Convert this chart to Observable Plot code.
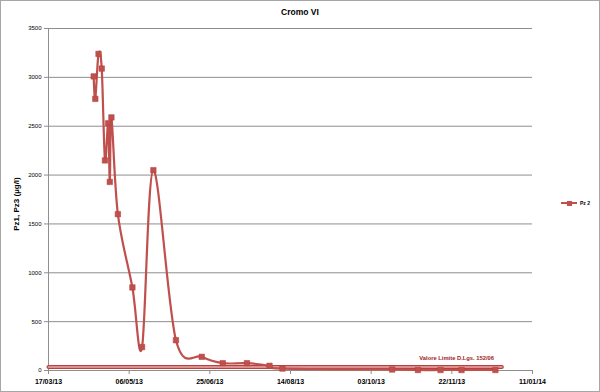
<!DOCTYPE html>
<html>
<head>
<meta charset="utf-8">
<script src="https://cdn.jsdelivr.net/npm/d3@7"></script>
<script src="https://cdn.jsdelivr.net/npm/@observablehq/plot@0.6"></script>
<style>
  body { margin: 0; background: #fff; }
  #chart { position: relative; width: 600px; height: 392px; overflow: hidden; font-family: "Liberation Sans", Arial, sans-serif; background:#fff; }
  #chart svg { position: absolute; left: 0; top: 0; }
  #border { position: absolute; left: 0; top: 0; width: 600px; height: 392px; box-sizing: border-box; border: 1px solid #a6a6a6; pointer-events: none; }
  #title { position: absolute; left: 0; width: 600px; top: 7px; text-align: center; font-weight: bold; font-size: 8.5px; color: #000; }
  #ylabel { position: absolute; left: 16px; top: 204px; transform: translate(-50%, -50%) rotate(-90deg); white-space: nowrap; font-weight: bold; font-size: 8px; color: #000; }
  #legend { position: absolute; left: 561px; top: 199px; display: flex; align-items: center; font-size: 5px; font-weight: bold; color: #000; }
  #legend .sw { position: relative; width: 16px; height: 8px; margin-right: 3px; }
  #legend .sw .ln { position: absolute; left: 0; top: 3px; width: 16px; height: 2px; background: #c0504d; }
  #legend .sw .mk { position: absolute; left: 5.5px; top: 1.5px; width: 5px; height: 5px; background: #c0504d; }
</style>
</head>
<body>
<div id="chart">
  <div id="title">Cromo VI</div>
  <div id="ylabel">Pz1, Pz3 (µg/l)</div>
  <div id="legend"><div class="sw"><div class="ln"></div><div class="mk"></div></div><span>Pz 2</span></div>
  <div id="border"></div>
</div>
<script>
// ---- data ----
const seriesName = "Pz 2";
const dates = ["2013-04-14","2013-04-15","2013-04-17","2013-04-19","2013-04-21","2013-04-23","2013-04-24","2013-04-25","2013-04-29","2013-05-08","2013-05-14","2013-05-21","2013-06-04","2013-06-20","2013-07-03","2013-07-18","2013-08-01","2013-08-09","2013-10-16","2013-11-01","2013-11-15","2013-11-28","2013-12-19"];
const values = [3010,2780,3240,3090,2150,2530,1930,2590,1600,850,240,2050,310,140,75,75,48,20,10,5,5,5,5];
const limitDates = ["2013-03-17","2013-12-23"];
const limitValues = [35,35];
const limitLabel = "Valore Limite D.Lgs. 152/06";
const limitLabelDate = "2013-11-25";
const limitLabelValue = 125;
const xTickDates = ["2013-03-17","2013-05-06","2013-06-25","2013-08-14","2013-10-03","2013-11-22","2014-01-11"];
const yTicks = [0,500,1000,1500,2000,2500,3000,3500];

// ---- build ----
const data = dates.map((d, i) => ({date: new Date(d), value: values[i]}));
const limit = limitDates.map((d, i) => ({date: new Date(d), value: limitValues[i]}));
const xTicks = xTickDates.map(d => new Date(d));
const red = "#c0504d";
const grid = "#8e8e8e";

const plot = Plot.plot({
  width: 600,
  height: 392,
  marginLeft: 48,
  marginRight: 68,
  marginTop: 28,
  marginBottom: 22,
  style: {fontFamily: "'Liberation Sans', Arial, sans-serif", background: "transparent", color: "#000"},
  x: {type: "utc", domain: [xTicks[0], xTicks[xTicks.length - 1]]},
  y: {domain: [0, 3500]},
  marks: [
    Plot.gridY(yTicks, {stroke: grid, strokeOpacity: 1}),
    Plot.ruleY([0], {stroke: grid}),
    Plot.ruleX([xTicks[0]], {stroke: grid}),
    Plot.axisY(yTicks, {tickSize: 4, tickPadding: 3, fontSize: 6, label: null, stroke: grid, tickFormat: d => String(d)}),
    Plot.axisX(xTicks, {tickSize: 4, tickPadding: 5, fontSize: 7, fontWeight: "bold", label: null, stroke: grid, tickFormat: d3.utcFormat("%d/%m/%y")}),
    Plot.line(limit, {x: "date", y: "value", stroke: "#b8403d", strokeWidth: 4}),
    Plot.line(limit, {x: "date", y: "value", stroke: "#e9aaa8", strokeWidth: 1.5}),
    Plot.text([limitLabel], {x: () => new Date(limitLabelDate), y: () => limitLabelValue, text: d => d, fill: "#a3201d", fontSize: 5.8, fontWeight: "bold", textAnchor: "middle"}),
    Plot.line(data, {x: "date", y: "value", curve: "cardinal", stroke: red, strokeWidth: 2.2}),
    Plot.dot(data, {x: "date", y: "value", symbol: "square", r: 3.1, fill: red, stroke: "#b0403d", strokeWidth: 0.5})
  ]
});
document.getElementById("chart").insertBefore(plot, document.getElementById("chart").firstChild);
</script>
</body>
</html>
